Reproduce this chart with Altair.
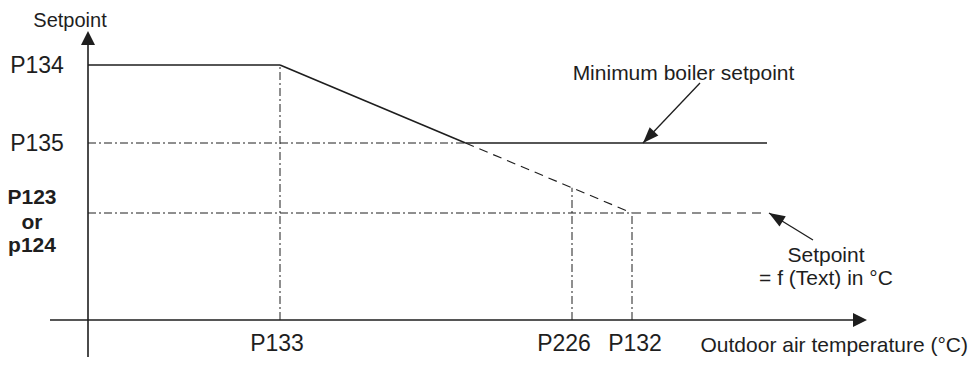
import math
import altair as alt
import pandas as pd

# ---- schematic values (abstract units: x = outdoor temperature, y = setpoint) ----
x_params = ["P133", "P226", "P132"]
x_values = [192, 484, 544]
y_params = ["P134", "P135", "P123"]
y_values = [255, 177, 107]
curve_end = 679          # where the drawn curves stop
x_axis_end = 779         # x axis arrow tip
y_axis_end = 289         # y axis arrow tip
axis_start = -38

P133, P226, P132 = x_values
P134, P135, P123 = y_values

slope = (P134 - P123) / (P132 - P133)
x_cross = P133 + (P134 - P135) / slope
y_226 = P134 - (P226 - P133) * slope

INK = "#1e1e1e"
FONT = "Liberation Sans"

X_DOM = [-80, 881]
Y_DOM = [-37, 312]
W, H = 961, 349

xs = alt.Scale(domain=X_DOM, nice=False, zero=False)
ys = alt.Scale(domain=Y_DOM, nice=False, zero=False)


def seg_layer(rows, **mark):
    df = pd.DataFrame(rows, columns=["x", "y", "x2", "y2"])
    return alt.Chart(df).mark_rule(color=INK, **mark).encode(
        x=alt.X("x:Q", scale=xs, axis=None),
        y=alt.Y("y:Q", scale=ys, axis=None),
        x2="x2:Q",
        y2="y2:Q",
    )


solid = seg_layer(
    [
        (0, P134, P133, P134),
        (P133, P134, x_cross, P135),
        (x_cross, P135, curve_end, P135),
    ],
    strokeWidth=1.6,
)

dashed = seg_layer(
    [
        (x_cross, P135, P132, P123),
        (P132, P123, curve_end, P123),
    ],
    strokeWidth=1.1,
    strokeDash=[9, 6],
)

dashdot = seg_layer(
    [
        (0, P135, x_cross, P135),
        (0, P123, P132, P123),
        (P133, 0, P133, P134),
        (P226, 0, P226, y_226),
        (P132, 0, P132, P123),
    ],
    strokeWidth=1.0,
    strokeDash=[8, 3, 2, 3],
)

axes = seg_layer(
    [
        (axis_start, 0, x_axis_end - 6, 0),
        (0, axis_start, 0, y_axis_end - 6),
    ],
    strokeWidth=1.6,
)

# annotation arrows: (tail x, tail y, tip x, tip y)
ann_tail_x = [612, 725]
ann_tail_y = [237, 80]
ann_tip_x = [555, 681]
ann_tip_y = [P135, P123]

shafts = seg_layer(
    list(zip(ann_tail_x, ann_tail_y, ann_tip_x, ann_tip_y)),
    strokeWidth=1.3,
)

# arrow heads (screen angle, clockwise from pointing right)
ann_angles = [
    (math.degrees(math.atan2(-(ty - sy), tx - sx)) + 360) % 360
    for sx, sy, tx, ty in zip(ann_tail_x, ann_tail_y, ann_tip_x, ann_tip_y)
]
heads_df = pd.DataFrame(
    {"x": ann_tip_x, "y": ann_tip_y, "ang": ann_angles}
)
heads = alt.Chart(heads_df).mark_point(
    shape="M0,0L-2,-0.75L-2,0.75Z", filled=True, color=INK, opacity=1, size=256, strokeWidth=0
).encode(
    x=alt.X("x:Q", scale=xs, axis=None),
    y=alt.Y("y:Q", scale=ys, axis=None),
    angle=alt.Angle("ang:Q", scale=None),
)

axis_heads_df = pd.DataFrame(
    {"x": [x_axis_end, 0], "y": [0, y_axis_end], "ang": [0, 270]}
)
axis_heads = alt.Chart(axis_heads_df).mark_point(
    shape="M0,0L-2,-1L-2,1Z", filled=True, color=INK, opacity=1, size=196, strokeWidth=0
).encode(
    x=alt.X("x:Q", scale=xs, axis=None),
    y=alt.Y("y:Q", scale=ys, axis=None),
    angle=alt.Angle("ang:Q", scale=None),
)


def text_layer(rows, size, weight="normal", align="center", dx=0):
    df = pd.DataFrame(rows, columns=["x", "y", "t"])
    return alt.Chart(df).mark_text(
        font=FONT, fontSize=size, fontWeight=weight, color=INK,
        align=align, baseline="alphabetic", dx=dx,
    ).encode(
        x=alt.X("x:Q", scale=xs, axis=None),
        y=alt.Y("y:Q", scale=ys, axis=None),
        text="t:N",
    )


y_labels = text_layer(
    [(-51, P134 - 8, "P134"), (-51, P135 - 8, "P135")], 23
)
y_bold = text_layer(
    [(-56, P123 + 9, "P123"), (-56, P123 - 16, "or"), (-56, P123 - 39, "p124")],
    21, weight="bold",
)
x_lab_133 = text_layer([(P133, -31, "P133")], 23, dx=-3)
x_lab_226 = text_layer([(P226, -31, "P226")], 23, dx=-8)
x_lab_132 = text_layer([(P132, -31, "P132")], 23, dx=3)

titles = text_layer(
    [
        (-18, 293, "Setpoint"),
    ],
    20,
)
x_title = text_layer([(880, -32, "Outdoor air temperature (°C)")], 21, align="right")
notes = text_layer(
    [
        (595.5, 240, "Minimum boiler setpoint"),
        (738, 58, "Setpoint"),
        (738, 35, "= f (Text) in °C"),
    ],
    21,
)

chart = alt.layer(
    dashdot, dashed, solid, axes, shafts, heads, axis_heads,
    y_labels, y_bold, x_lab_133, x_lab_226, x_lab_132, titles, x_title, notes,
).properties(
    width=W, height=H, padding=0,
    autosize=alt.AutoSizeParams(type="none"),
).configure_view(stroke="transparent", strokeWidth=0)

chart.save("out.html", embed_options={"renderer": "svg", "actions": False})
